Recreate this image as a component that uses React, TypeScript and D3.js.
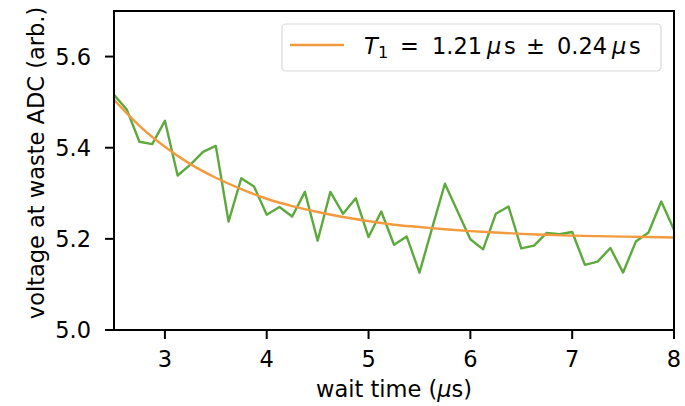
import React from "react";
import * as d3 from "d3";

const waitTimes: number[] = [
  2.5, 2.625, 2.75, 2.875, 3.0, 3.125, 3.25, 3.375, 3.5, 3.625, 3.75, 3.875,
  4.0, 4.125, 4.25, 4.375, 4.5, 4.625, 4.75, 4.875, 5.0, 5.125, 5.25, 5.375,
  5.5, 5.625, 5.75, 5.875, 6.0, 6.125, 6.25, 6.375, 6.5, 6.625, 6.75, 6.875,
  7.0, 7.125, 7.25, 7.375, 7.5, 7.625, 7.75, 7.875, 8.0,
];
const voltages: number[] = [
  5.516, 5.484, 5.413, 5.408, 5.459, 5.339, 5.363, 5.391, 5.404, 5.238, 5.333, 5.315,
  5.253, 5.27, 5.249, 5.303, 5.196, 5.303, 5.255, 5.289, 5.204, 5.26, 5.187, 5.205,
  5.126, 5.224, 5.321, 5.26, 5.199, 5.177, 5.255, 5.271, 5.179, 5.185, 5.213, 5.21,
  5.215, 5.143, 5.15, 5.18, 5.126, 5.194, 5.214, 5.282, 5.22,
];
const fitTimes: number[] = [
  2.5, 2.75, 3.0, 3.25, 3.5, 3.75, 4.0, 4.25, 4.5, 4.75, 5.0, 5.25, 5.5, 5.75,
  6.0, 6.25, 6.5, 6.75, 7.0, 7.25, 7.5, 7.75, 8.0,
];
const fitValues: number[] = [
  5.505, 5.448, 5.402, 5.364, 5.334, 5.309, 5.288, 5.272, 5.259, 5.248, 5.239,
  5.231, 5.226, 5.221, 5.217, 5.214, 5.211, 5.209, 5.207, 5.206, 5.205, 5.204, 5.203,
];
const xTicks: number[] = [3, 4, 5, 6, 7, 8];
const yTicks: number[] = [5.0, 5.2, 5.4, 5.6];

const W = 685;
const H = 406;
const L = 114;
const R = 674;
const T = 11;
const B = 330;
const FONT = "'DejaVu Sans', sans-serif";
const FS = 22.5;
const GREEN = "#5da93c";
const ORANGE = "#f29a3e";

export default function App() {
  const x = d3.scaleLinear().domain([2.5, 8]).range([L, R]);
  const y = d3.scaleLinear().domain([5.0, 5.7]).range([B, T]);

  const dataLine = d3
    .line<number>()
    .x((_, i) => x(waitTimes[i]))
    .y((d) => y(d));
  const fitLine = d3
    .line<number>()
    .x((_, i) => x(fitTimes[i]))
    .y((d) => y(d))
    .curve(d3.curveMonotoneX);

  return (
    <svg
      width={W}
      height={H}
      style={{ position: "absolute", left: 0, top: 0, background: "#fff" }}
      fontFamily={FONT}
    >
      <defs>
        <clipPath id="plotclip">
          <rect x={L} y={T} width={R - L} height={B - T} />
        </clipPath>
      </defs>
      <g clipPath="url(#plotclip)">
        <path d={dataLine(voltages) || ""} fill="none" stroke={GREEN} strokeWidth={2.4} strokeLinejoin="round" />
        <path d={fitLine(fitValues) || ""} fill="none" stroke={ORANGE} strokeWidth={2.4} />
      </g>

      {/* spines */}
      <rect x={L} y={T} width={R - L} height={B - T} fill="none" stroke="#000" strokeWidth={2} />

      {/* x ticks */}
      {xTicks.map((t) => (
        <g key={"x" + t}>
          <line x1={x(t)} x2={x(t)} y1={B} y2={B + 9} stroke="#000" strokeWidth={2} />
          <text x={x(t)} y={367} fontSize={FS} textAnchor="middle" fill="#000">
            {t}
          </text>
        </g>
      ))}
      {/* y ticks */}
      {yTicks.map((t) => (
        <g key={"y" + t}>
          <line x1={L - 9} x2={L} y1={y(t)} y2={y(t)} stroke="#000" strokeWidth={2} />
          <text x={91} y={y(t) + 8} fontSize={FS} textAnchor="end" fill="#000">
            {t.toFixed(1)}
          </text>
        </g>
      ))}

      <text x={(L + R) / 2} y={397} fontSize={FS} textAnchor="middle" fill="#000">
        wait time (<tspan fontStyle="italic">μ</tspan>s)
      </text>
      <text
        transform={`translate(44, ${163}) rotate(-90)`}
        fontSize={FS}
        textAnchor="middle"
        fill="#000"
      >
        voltage at waste ADC (arb.)
      </text>

      {/* legend */}
      <rect x={282} y={24} width={379} height={47} rx={4} fill="#fff" fillOpacity={0.8} stroke="#d8d8d8" strokeWidth={1.2} />
      <line x1={290} x2={344} y1={45} y2={45} stroke={ORANGE} strokeWidth={2.4} />
      <g fontSize={FS} fill="#000">
        <text x={364} y={54} fontStyle="italic">T</text>
        <text x={378} y={58} fontSize={16}>1</text>
        <text x={400} y={54}>=</text>
        <text x={432} y={54}>1.21</text>
        <text x={487} y={54} fontStyle="italic">μ</text>
        <text x={504} y={54}>s</text>
        <text x={526} y={54}>±</text>
        <text x={557} y={54}>0.24</text>
        <text x={612} y={54} fontStyle="italic">μ</text>
        <text x={629} y={54}>s</text>
      </g>
    </svg>
  );
}
